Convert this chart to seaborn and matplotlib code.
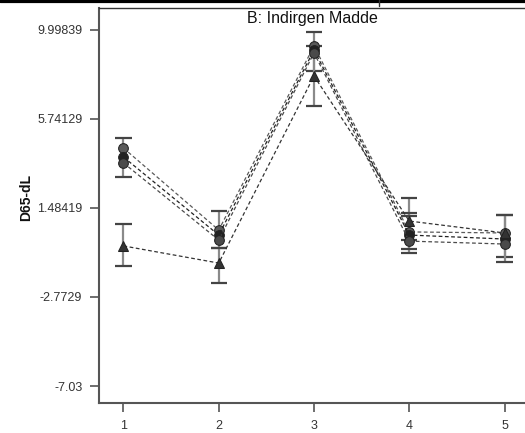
import matplotlib
matplotlib.use("Agg")
import matplotlib.pyplot as plt
from matplotlib.lines import Line2D
import seaborn as sns
import pandas as pd
import numpy as np

# ---- data ----
levels = [1, 2, 3, 4, 5]
series_names = ["S1", "S2", "S3", "S4"]
s1 = [4.35, 0.43, 9.23, 0.34, 0.29]
s2 = [3.92, 0.19, 9.04, 0.19, 0.00]
s3 = [3.64, -0.05, 8.90, -0.10, -0.24]
s4 = [-0.33, -1.15, 7.80, 0.86, 0.29]

err_x = [1, 1, 2, 2, 3, 3, 4, 4, 4, 5, 5]
err_lo = [2.967, -1.291, -0.429, -2.104, 8.037, 6.363, -0.047, -0.668, -0.477, -0.860, -1.099]
err_hi = [4.832, 0.718, 1.340, -0.429, 9.903, 9.233, 1.962, 1.245, 1.101, 1.149, 1.149]

ytick_vals = [9.99839, 5.74129, 1.48419, -2.7729, -7.03]
ytick_labels = ["9.99839", "5.74129", "1.48419", "-2.7729", "-7.03"]
xtick_labels = ["1", "2", "3", "4", "5"]
title = "B: Indirgen Madde"
ylabel = "D65-dL"

df = pd.DataFrame({
    "x": levels * 4,
    "y": s1 + s2 + s3 + s4,
    "series": sum([[n] * len(levels) for n in series_names], []),
})

sns.set_style("white")
plt.rcParams["font.family"] = ["Liberation Sans", "DejaVu Sans"]

fig = plt.figure(figsize=(5.25, 4.33), dpi=100)
ax = fig.add_axes([99 / 525, 30 / 433, 1 - 99 / 525 + 0.01, (403 - 8) / 433])

# error bars
for xv, lo, hi in zip(err_x, err_lo, err_hi):
    ax.vlines(xv, lo, hi, color="#8a8a8a", lw=1.6, zorder=1)
    ax.hlines([lo, hi], xv - 0.085, xv + 0.085, color="#444444", lw=1.6, zorder=1)

palette = {"S1": "#5a5a5a", "S2": "#222222", "S3": "#4a4a4a", "S4": "#333333"}
markers = {"S1": "o", "S2": "o", "S3": "o", "S4": "^"}
dashes = {n: (3, 2) for n in series_names}
sns.lineplot(data=df, x="x", y="y", hue="series", style="series",
             palette=palette, markers=markers, dashes=dashes,
             markersize=7, linewidth=0.9, markeredgecolor="#222222",
             legend=False, ax=ax, zorder=3)

ax.set_xlim(0.743, 5.215 + 0.01 * 525 / 95.25)
ax.set_ylim(-7.843, 11.05)
ax.set_xticks(levels)
ax.set_xticklabels(xtick_labels)
ax.set_yticks(ytick_vals)
ax.set_yticklabels(ytick_labels)
ax.tick_params(axis="both", direction="out", length=6.5, width=1.2,
               color="#555555", labelsize=9, labelcolor="#333333", pad=5.5)
ax.tick_params(left=True, bottom=True)
ax.set_xlabel("")
ax.set_ylabel(ylabel, fontsize=10, fontweight="bold", color="#111111")
ax.yaxis.set_label_coords(-66 / 431, 0.52)

for side in ["left", "bottom"]:
    ax.spines[side].set_color("#555555")
    ax.spines[side].set_linewidth(1.5)
ax.spines["top"].set_color("#333333")
ax.spines["top"].set_linewidth(1.0)
ax.spines["right"].set_visible(False)

fig.text(312 / 525, 1 - 18 / 433, title, ha="center", va="center",
         fontsize=11.5, color="#111111")

# cropped frame fragments at the very top
fig.add_artist(Line2D([0, 1], [1 - 1.2 / 433, 1 - 1.2 / 433], color="black", lw=2.3,
                      transform=fig.transFigure))
fig.add_artist(Line2D([379 / 525, 379 / 525], [1, 1 - 6 / 433], color="#333333", lw=1.0,
                      transform=fig.transFigure))

fig.savefig("out.png", dpi=100, facecolor="white")
